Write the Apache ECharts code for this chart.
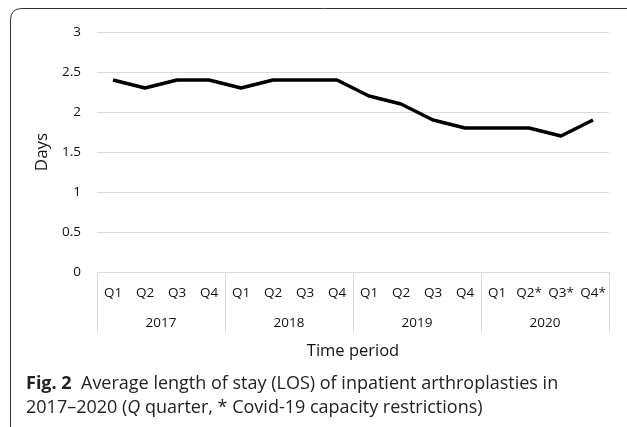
<!DOCTYPE html>
<html><head><meta charset="utf-8">
<script src="https://cdn.jsdelivr.net/npm/echarts@6/dist/echarts.min.js"></script>
<style>html,body{margin:0;padding:0;background:#fff}#c{width:627px;height:427px}</style>
</head><body><div id="c"></div>
<script>
const quarters = ['Q1','Q2','Q3','Q4','Q1','Q2','Q3','Q4','Q1','Q2','Q3','Q4','Q1','Q2*','Q3*','Q4*'];
const years = ['2017','2018','2019','2020'];
const losDays = [2.4,2.3,2.4,2.4,2.3,2.4,2.4,2.4,2.2,2.1,1.9,1.8,1.8,1.8,1.7,1.9];
const yTicks = {min:0, max:3, interval:0.5};

const chart = echarts.init(document.getElementById('c'), null, {renderer:'canvas'});
const font = 'Open Sans';
chart.setOption({
  animation:false,
  grid:{left:97, right:18, top:32, bottom:155},
  xAxis:[
    {type:'category', data:quarters, position:'bottom',
     axisLine:{lineStyle:{color:'#d9d9d9', width:1}}, axisTick:{show:false},
     axisLabel:{color:'#111', fontFamily:font, fontSize:13.5, margin:14, interval:0}},
    {type:'category', data:years, position:'bottom',
     axisLine:{show:false},
     axisTick:{show:true, length:60, lineStyle:{color:'#d9d9d9'}},
     axisLabel:{color:'#111', fontFamily:font, fontSize:13.5, margin:44},
     name:'Time period', nameLocation:'middle', nameGap:71,
     nameTextStyle:{color:'#111', fontFamily:font, fontSize:16.5}}
  ],
  yAxis:{type:'value', min:yTicks.min, max:yTicks.max, interval:yTicks.interval,
    axisLine:{show:false}, axisTick:{show:false},
    splitLine:{lineStyle:{color:'#d9d9d9', width:1}},
    axisLabel:{color:'#111', fontFamily:font, fontSize:13.5, margin:16},
    name:'Days', nameLocation:'middle', nameGap:45,
    nameTextStyle:{color:'#111', fontFamily:font, fontSize:17}},
  series:[{type:'line', data:losDays, xAxisIndex:0, symbol:'none',
    lineStyle:{color:'#000', width:3.5}}],
  graphic:[
    {type:'polyline', shape:{points:[[10.5,427],[10.5,20]]}, style:{fill:null, stroke:'#333', lineWidth:1}},
    {type:'polyline', shape:{points:[[22,8.5],[627,8.5]]}, style:{fill:null, stroke:'#333', lineWidth:1}},
    {type:'bezierCurve', shape:{x1:10.5,y1:20,cpx1:10.5,cpy1:8.5,x2:22,y2:8.5}, style:{fill:null, stroke:'#333', lineWidth:1}},
    {type:'text', left:26, top:372, style:{
      text:'{b|Fig. 2}  Average length of stay (LOS) of inpatient arthroplasties in\n2017–2020 ({i|Q} quarter, * Covid-19 capacity restrictions)',
      fontFamily:font, fontSize:18, lineHeight:24, fill:'#222',
      rich:{b:{fontWeight:'bold', fontFamily:font, fontSize:18, lineHeight:24, fill:'#222'},
            i:{fontStyle:'italic', fontFamily:font, fontSize:18, lineHeight:24, fill:'#222'}}}}
  ]
});
</script></body></html>
